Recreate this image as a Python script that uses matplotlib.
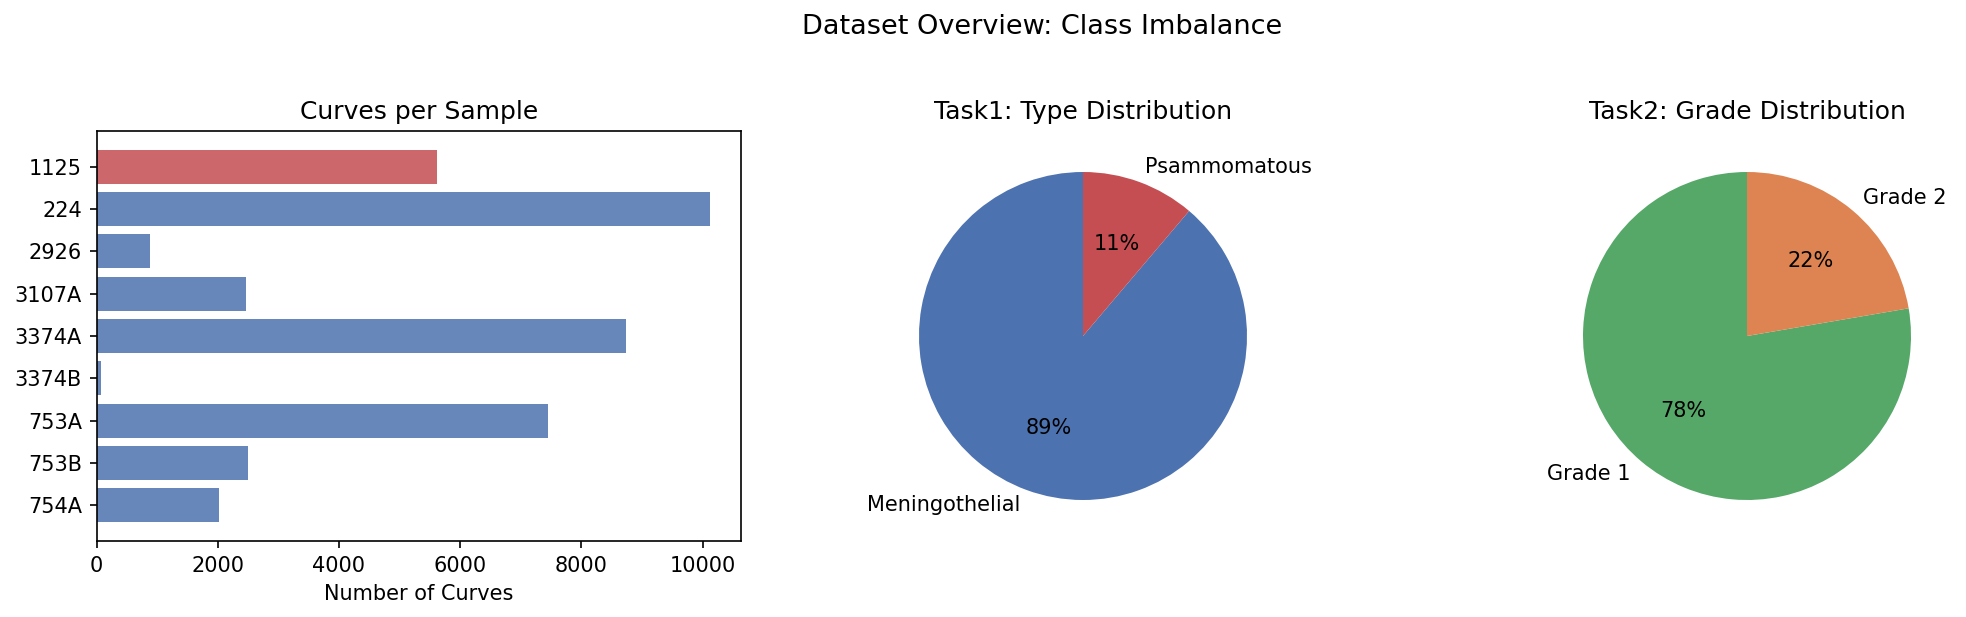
import numpy as np
import matplotlib
matplotlib.use("Agg")
import matplotlib.pyplot as plt

# data
samples = ["1125", "224", "2926", "3107A", "3374A", "3374B", "753A", "753B", "754A"]
curve_counts = [5624, 10128, 888, 2472, 8744, 72, 7456, 2504, 2024]

type_labels = ["Meningothelial", "Psammomatous"]
type_share = [88.8, 11.2]

grade_labels = ["Grade 1", "Grade 2"]
grade_share = [77.7, 22.3]

blue = "#4C72B0"
red = "#C44E52"
green = "#55A868"
orange = "#DD8452"

W, H = 1966, 617
fig = plt.figure(figsize=(W / 150, H / 150), dpi=150)
bottom = 1 - 541 / H

# bar chart
ax1 = fig.add_axes([96.5 / W, bottom, (741 - 96.5) / W, 410 / H])
bar_colors = [red if i == 0 else blue for i in range(len(samples))]
ax1.barh(samples, curve_counts, color=bar_colors, alpha=0.85)
ax1.invert_yaxis()
ax1.set_xlabel("Number of Curves")
ax1.set_title("Curves per Sample", fontsize=12)

# pies
side = 410
ax2 = fig.add_axes([(1083 - side / 2) / W, bottom, side / W, side / H])
ax2.pie(type_share, labels=type_labels, colors=[blue, red], autopct="%1.0f%%",
        startangle=90, textprops={"fontsize": 10})
ax2.set_title("Task1: Type Distribution", fontsize=12)

ax3 = fig.add_axes([(1747 - side / 2) / W, bottom, side / W, side / H])
ax3.pie(grade_share, labels=grade_labels, colors=[green, orange], autopct="%1.0f%%",
        startangle=90, textprops={"fontsize": 10})
ax3.set_title("Task2: Grade Distribution", fontsize=12)

fig.suptitle("Dataset Overview: Class Imbalance", fontsize=13,
             x=1042 / W, y=1 - 14 / H)

fig.savefig("out.png", dpi=150)
